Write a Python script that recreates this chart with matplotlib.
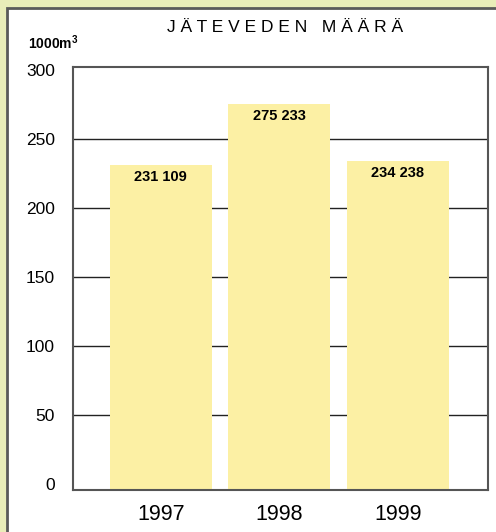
import matplotlib.pyplot as plt
from matplotlib.patches import Rectangle

# data
years = ['1997', '1998', '1999']
volumes = [231.109, 275.233, 234.238]
labels = ['231 109', '275 233', '234 238']
yticks = [0, 50, 100, 150, 200, 250, 300]

plt.rcParams['font.family'] = ['Liberation Sans', 'DejaVu Sans']
plt.rcParams['mathtext.fontset'] = 'custom'
plt.rcParams['mathtext.bf'] = 'Liberation Sans:bold'

fig = plt.figure(figsize=(4.96, 5.32), dpi=100)
fig.patch.set_facecolor('#e9edb9')

# white panel with grey border
panel = Rectangle((6.5 / 496, -0.05), 1.1, 1 - 7.5 / 532 + 0.05,
                  transform=fig.transFigure, facecolor='white',
                  edgecolor='#5a5a5a', linewidth=2, zorder=-1)
fig.patches.append(panel)

ax = fig.add_axes([73 / 496, 1 - 490 / 532, 415 / 496, 423 / 532])
ax.set_zorder(1)
ymin, ymax = -4.3, 302.2
x = range(len(years))
# bars start at the frame, a little below zero, like the original
ax.bar(x, [v - ymin for v in volumes], bottom=ymin, width=0.86,
       color='#fcf0a4', zorder=2)

for i, (v, lab) in enumerate(zip(volumes, labels)):
    ax.text(i, v - 8.5, lab, ha='center', va='center', fontsize=10.5,
            fontweight='bold', zorder=3)

# gridlines only between the end ticks
for t in yticks[1:-1]:
    ax.axhline(t, color='#222222', linewidth=1, zorder=1)

ax.set_xlim(-0.74, 2.76)
ax.set_ylim(ymin, ymax)
ax.set_yticks(yticks)
ax.set_yticklabels([str(t) for t in yticks], fontsize=12.5)
ax.set_xticks(list(x))
ax.set_xticklabels(years, fontsize=15.5)
ax.tick_params(length=0, pad=13)
ax.tick_params(axis='x', pad=10)
for s in ax.spines.values():
    s.set_color('#555555')
    s.set_linewidth(1.5)

fig.text(285 / 496, 1 - 27 / 532, 'J Ä T E V E D E N   M Ä Ä R Ä',
         ha='center', va='center', fontsize=12.5)
fig.text(28 / 496, 1 - 43 / 532, r'1000m$^\mathbf{3}$', ha='left', va='center',
         fontsize=10, fontweight='bold')

fig.savefig('out.png', dpi=100, facecolor=fig.get_facecolor())
